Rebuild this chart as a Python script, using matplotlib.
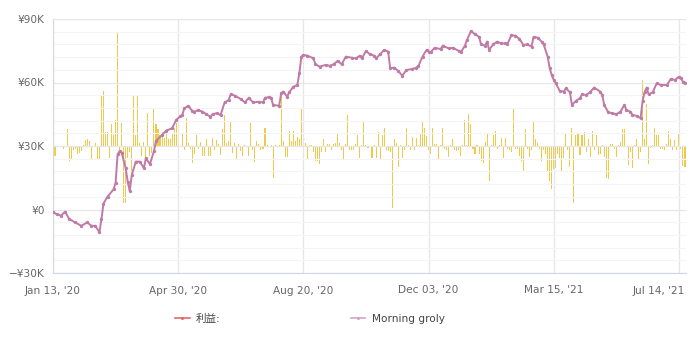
import matplotlib
matplotlib.use("Agg")
import matplotlib.pyplot as plt
from matplotlib.lines import Line2D
from matplotlib.ticker import FuncFormatter, MultipleLocator
from matplotlib.transforms import ScaledTranslation
import numpy as np

plt.rcParams['font.family'] = ['DejaVu Sans', 'Noto Sans CJK SC']

# Trading-day index of each labelled tick and its date label
tick_days = [0, 62, 124, 186, 248, 310]
tick_labels = ["Jan 13, '20", "Apr 30, '20", "Aug 20, '20", "Dec 03, '20", "Mar 15, '21", "Jul 14, '21"]

# Cumulative result (thousand yen) at trading-day index
line_day = [0, 2, 4, 6, 8, 11, 14, 17, 19, 21, 23, 24, 25, 27, 30, 31, 32, 33, 34, 36,
            37, 38, 39, 41, 43, 45, 46, 48, 50, 51, 54, 56, 59, 61, 63, 64, 65, 67, 69, 70,
            72, 74, 76, 78, 79, 81, 83, 85, 87, 88, 90, 93, 95, 97, 99, 102, 104, 105, 107, 108,
            109, 112, 113, 114, 116, 117, 119, 121, 122, 123, 124, 126, 129, 130, 132, 135, 137, 139, 141, 143,
            145, 148, 150, 152, 153, 155, 157, 159, 160, 162, 164, 166, 167, 169, 171, 173, 175, 178, 180, 181,
            183, 185, 186, 187, 189, 192, 193, 196, 198, 201, 202, 204, 205, 207, 209, 211, 212, 214, 215, 216,
            218, 220, 222, 224, 225, 227, 229, 231, 233, 235, 237, 238, 240, 242, 243, 245, 246, 247, 248, 249,
            251, 253, 254, 256, 257, 259, 261, 262, 264, 266, 268, 271, 272, 273, 275, 277, 279, 281, 283, 284,
            286, 287, 289, 291, 292, 293, 294, 295, 297, 299, 301, 304, 306, 308, 310, 311, 312, 313]
line_value = [-1.3, -2.3, -2.9, -1.0, -4.5, -6.1, -7.7, -6.1, -7.7, -7.7, -10.8, -4.5, 2.8, 6.1, 9.5, 12.6, 26.0, 27.6, 26.8, 19.5,
              13.1, 8.7, 16.3, 22.6, 22.6, 19.5, 24.2, 21.4, 27.6, 32.4, 35.2, 37.2, 38.4, 42.3, 44.0, 44.6, 47.8, 49.0, 46.5, 46.2,
              47.0, 46.2, 45.0, 43.8, 45.0, 45.5, 44.6, 50.6, 51.7, 54.4, 53.8, 52.2, 50.6, 52.8, 50.6, 50.9, 50.6, 52.8, 53.1, 52.8,
              49.4, 49.0, 54.9, 55.7, 53.3, 55.4, 58.0, 58.8, 64.3, 72.2, 73.0, 72.7, 71.4, 68.6, 67.5, 68.3, 67.9, 68.6, 70.2, 68.6,
              72.2, 71.7, 71.4, 72.7, 71.4, 74.9, 73.3, 72.7, 71.4, 73.3, 75.4, 74.6, 66.7, 67.0, 65.4, 63.2, 65.9, 66.4, 67.0, 67.9,
              72.2, 75.4, 74.6, 74.3, 76.4, 75.8, 77.4, 76.1, 76.4, 74.9, 74.3, 77.4, 80.1, 84.3, 82.8, 81.6, 78.0, 77.4, 79.3, 75.4,
              78.0, 79.3, 78.5, 78.5, 78.0, 82.4, 82.1, 80.6, 77.7, 78.0, 76.9, 81.6, 81.2, 79.3, 78.0, 72.2, 66.7, 63.5, 61.2, 59.6,
              56.0, 55.7, 57.3, 55.4, 49.4, 51.3, 52.6, 54.4, 54.1, 55.4, 57.6, 55.7, 54.1, 49.4, 45.9, 45.5, 45.0, 46.2, 49.4, 47.0,
              46.2, 44.6, 44.3, 43.1, 51.3, 55.4, 57.6, 54.4, 55.4, 59.6, 58.8, 58.8, 61.7, 61.2, 62.7, 62.0, 60.4, 60.0]

# Daily profit (thousand yen), one value per trading day starting at index 0
daily_profit = [
    -4.0, -4.8, 0, 0, 0, -1.6, 0, 7.8, -7.2, -6.8,
    -2.1, -1.6, -4.0, -3.2, -2.4, 0.7, 2.6, 3.5, 2.3, -6.4,
    0, 1.5, -6.8, -6.8, 23.5, 26.2, 6.7, 6.7, -5.6, 10.5,
    5.4, 12.4, 53.5, -4.0, 11.0, -26.8, -26.8, -5.6, -3.0, -12.7,
    23.5, 5.1, 23.9, 1.5, -4.8, 2.0, -5.6, 15.7, -4.8, -3.2,
    18.0, 10.2, 7.8, 5.4, 6.7, 3.9, 7.8, 3.5, 3.5, 6.2,
    8.6, 11.0, 12.0, 0, 6.2, -1.7, 13.0, 1.5, -1.2, -7.9,
    -3.7, 5.1, -1.2, 2.0, -4.8, -4.8, 3.1, -4.8, -4.8, 3.9,
    -2.0, 2.6, 1.0, -4.3, 7.8, 14.6, 1.5, 2.3, 11.4, -3.2,
    1.5, -6.4, 1.0, -2.4, -4.8, 0.5, 0, -4.8, 11.0, -1.7,
    -7.5, 2.3, 1.0, -1.7, -1.2, 8.3, 0.7, 0, 0.7, -15.0,
    0.3, 0, 0.3, 24.3, 2.3, -5.3, -5.3, 7.0, 2.3, 7.0,
    2.3, 4.2, 3.5, 18.0, 29.8, 1.5, -6.4, 0.3, 0.7, -2.8,
    -7.2, -7.2, -8.7, -2.8, 3.5, -2.8, 1.0, 1.0, -1.7, 1.0,
    1.5, 5.7, 1.5, -1.7, -6.8, 1.0, 14.6, -1.7, -2.1, -1.7,
    1.0, 5.1, -5.9, 0.5, 11.4, 0.5, -0.9, 0, -5.9, 0.5,
    -5.9, 6.7, -6.4, 5.1, 8.6, -1.7, -2.4, -2.8, -29.5, 3.5,
    1.5, -10.0, 0.4, -5.9, -1.7, 8.6, 0.4, -1.7, 4.2, -2.1,
    3.9, 0.5, 5.7, 11.4, 8.6, 4.6, -1.7, -3.7, 8.3, 1.0,
    1.0, -6.4, 0.3, 8.6, -1.2, -2.1, -5.3, 0.4, 3.5, -1.7,
    -2.4, -2.1, -4.8, 0.4, 12.5, 0.4, 14.9, 10.5, -1.2, -3.7,
    0.4, -4.0, -7.2, -7.9, 2.0, 5.7, -16.4, 0.4, 5.1, 7.3,
    -1.2, 0.4, 3.9, -5.9, 3.9, -1.2, -1.7, -2.8, 17.7, -1.2,
    -1.2, -4.8, -7.2, -11.6, 7.8, -1.2, -5.3, -1.7, 11.4, 3.5,
    1.5, -1.2, -7.2, -2.1, -3.7, -11.9, -16.5, -20.5, -11.0, -10.6,
    -4.0, -5.6, -11.6, -5.9, 5.7, -1.7, -10.0, 8.6, -26.7, 5.1,
    6.2, -4.3, 5.1, 6.7, -2.8, 3.5, -5.3, 7.3, -1.7, 5.1,
    -4.3, -3.7, 0.5, -5.3, -15.0, -15.8, 1.0, 1.0, -1.2, -5.3,
    0.5, 2.0, 7.8, 7.8, 0, -9.0, -2.8, -10.6, 0.7, 3.5,
    -6.4, -2.8, 31.3, 3.1, 19.9, -8.4, -1.0, 0.5, 8.6, 5.1,
    5.1, -1.2, -1.2, -1.7, 1.0, 7.3, 3.5, -2.1, 2.6, -2.1,
    5.7, -1.2, -9.4, -10.0,
]

y_ticks = [-30, 0, 30, 60, 90]

line_color = '#c07aa6'
bar_color = '#f0c94a'
label_color = '#666666'

fig = plt.figure(figsize=(6.92, 3.43), dpi=100)
ax = fig.add_axes([53 / 692, 1 - 273 / 343, 633 / 692, 254 / 343])
ax_bars = ax.twinx()

# bars live on a hidden secondary scale centred on zero
ax.set_zorder(ax_bars.get_zorder() + 1)
ax.patch.set_visible(False)
ax_bars.bar(np.arange(len(daily_profit)), daily_profit, width=0.52,
            color=bar_color, linewidth=0)
ax_bars.set_ylim(-60, 60)
ax_bars.axis('off')

ax.plot(line_day, line_value, color=line_color, lw=1.4, marker='o',
        markersize=2.4, markeredgewidth=0, zorder=3)

ax.set_xlim(0, 313.5)
ax.set_ylim(-30, 90)
ax.set_xticks(tick_days)
ax.set_xticklabels(tick_labels)
ax.set_yticks(y_ticks)
ax.yaxis.set_minor_locator(MultipleLocator(6))
ax.yaxis.set_major_formatter(FuncFormatter(
    lambda v, _: ('\u2212¥%dK' % abs(v) if v < 0 else ('¥0' if v == 0 else '¥%dK' % v))))

ax.grid(True, which='major', axis='both', color='#e6e6e6', lw=0.9)
ax.grid(True, which='minor', axis='y', color='#f4f4f4', lw=0.8)
ax.set_axisbelow(True)
ax.tick_params(axis='both', which='both', length=0, labelsize=7.6, colors=label_color)
ax.tick_params(axis='x', pad=9)
ax.tick_params(axis='y', pad=6)

# keep the last date label inside the figure
last = ax.get_xticklabels()[-1]
last.set_ha('right')
last.set_transform(last.get_transform() + ScaledTranslation(6 / 100, 0, fig.dpi_scale_trans))

for side in ('top', 'right'):
    ax.spines[side].set_visible(False)
ax.spines['left'].set_color('#d8d8d8')
ax.spines['bottom'].set_color('#ccd6eb')

handles = [
    Line2D([], [], color='#e06a6a', lw=1.2, marker='o', markersize=2.2, markeredgewidth=0),
    Line2D([], [], color='#d3a6c6', lw=1.2, marker='o', markersize=2.2, markeredgewidth=0),
]
fig.legend(handles, ['利益:', 'Morning groly'], loc='center left',
           bbox_to_anchor=(175 / 692, 1 - 319 / 343), ncol=2, frameon=False,
           fontsize=7.6, labelcolor='#444444', handlelength=1.4, handletextpad=0.6,
           columnspacing=12.3, borderpad=0, borderaxespad=0)

fig.savefig('out.png', dpi=100, facecolor='white')
